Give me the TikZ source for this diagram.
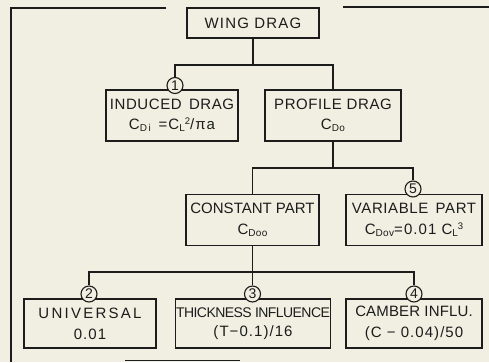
\documentclass[tikz,border=0pt]{standalone}
\usepackage{fontspec}
\setmainfont{Liberation Sans}
\definecolor{bg}{RGB}{240,239,226}
\definecolor{ink}{RGB}{28,28,28}
\newcommand\ls[1]{\addfontfeature{LetterSpace=#1}}
\newcommand\dsub[1]{\raisebox{-2pt}{\fontsize{10}{10}\selectfont\ls{4}#1}}
\newcommand\dsup[1]{\raisebox{5.5pt}{\fontsize{9.5}{9.5}\selectfont #1}}
\newcommand\second{\fontsize{15}{15}\selectfont\ls{7}}
\begin{document}
\begin{tikzpicture}[x=1pt,y=-1pt,
  box/.style={draw=ink, line width=1.4pt, minimum height=51pt, inner sep=0pt, align=center,
    font=\fontsize{15}{15}\selectfont\ls{4}, text=ink},
  num/.style={circle, draw=ink, line width=1.1pt, fill=bg, minimum size=16pt, inner sep=0pt,
    font=\fontsize{14}{14}\selectfont, text=ink},
  wire/.style={draw=ink, line width=1.4pt},
  frame/.style={draw=ink, line width=1.8pt}]
\fill[bg] (0,0) rectangle (489,362);
\useasboundingbox (0,0) rectangle (489,362);
% frame
\draw[frame] (166,8) -- (11,8) -- (11,362);
\draw[frame] (343,7) -- (489,7);
\draw[ink, line width=1pt] (125,360.5) -- (240,360.5);
% boxes
\node[box, minimum width=132pt, minimum height=30pt, font=\fontsize{15}{15}\selectfont\ls{8}] (wing) at (253,23) {WING DRAG};
\node[box, minimum width=132pt] (ind) at (172,115.5) {INDUCED\ \,DRAG\\[5pt]{\second C\dsub{D\,i}\ \,=C\dsub{L}\dsup{2}/πa}};
\node[box, minimum width=136pt] (prof) at (333,115.5) {PROFILE DRAG\\[5pt]{\second C\dsub{Do}}};
\node[box, minimum width=133pt, font=\fontsize{15}{15}\selectfont\ls{0}] (const) at (252.5,220) {CONSTANT PART\\[6pt]{\second C\dsub{Doo}}};
\node[box, minimum width=136pt] (var) at (414,220) {VARIABLE\ \,PART\\[6pt]{\second C\dsub{Dov}=0.01 C\dsub{L}\dsup{3}}};
\node[box, minimum width=132pt, minimum height=49pt, font=\fontsize{15}{15}\selectfont\ls{15}] (univ) at (90,323.5) {UNIVERSAL\\[6pt]{\second 0.01}};
\node[box, minimum width=134pt, minimum height=49pt, font=\fontsize{14}{14}\selectfont\ls{-4}] (thick) at (253,323.5) {\setlength\fboxsep{0.5pt}\colorbox{bg}{THICKNESS INFLUENCE}\\[5pt]{\second (T−0.1)/16}};
\node[box, minimum width=136pt, minimum height=49pt, font=\fontsize{15}{15}\selectfont\ls{1}] (camb) at (414,323.5) {CAMBER INFLU.\\[6pt]{\second (C − 0.04)/50}};
% numbered circles
\node[num] (n1) at (175,85.5) {1};
\node[num] (n5) at (413,189) {5};
\node[num] (n2) at (89,294) {2};
\node[num] (n3) at (252.5,294) {3};
\node[num] (n4) at (414,294) {4};
% rows
\coordinate (r1) at (0,65);
\coordinate (r2) at (0,168);
\coordinate (r3) at (0,272);
% connectors
\draw[wire] (wing.south) -- (wing.south |- r1);
\draw[wire] (n1.north) |- (prof.north |- r1) -- (prof.north);
\draw[wire] (prof.south) -- (prof.south |- r2);
\draw[wire] (const.north) |- (n5.north |- r2) -- (n5.north);
\draw[wire] (const.south) -- (n3.north);
\draw[wire] (n2.north) |- (n4.north |- r3) -- (n4.north);
\end{tikzpicture}
\end{document}
